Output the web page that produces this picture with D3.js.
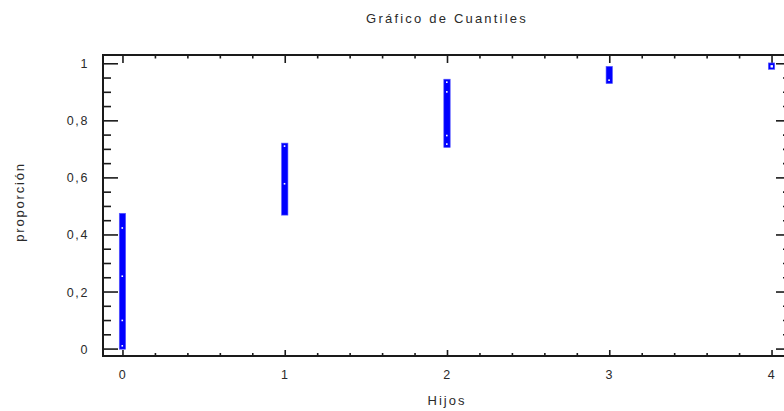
<!DOCTYPE html>
<html>
<head>
<meta charset="utf-8">
<script src="https://cdn.jsdelivr.net/npm/d3@7"></script>
<style>
  html, body { margin: 0; padding: 0; background: #fff; }
  svg { display: block; }
  text { font-family: "Liberation Sans", Arial, sans-serif; fill: #2a2a2a; }
</style>
</head>
<body>
<svg id="chart" width="784" height="411"></svg>
<script>
// ---- data ----
const title = "Gráfico de Cuantiles";
const xTitle = "Hijos";
const yTitle = "proporción";
const categories = [0, 1, 2, 3, 4];            // Hijos values
const lowerProp = [0.009, 0.479, 0.716, 0.940, 0.990]; // lowest cumulative proportion per value
const upperProp = [0.463, 0.709, 0.933, 0.978, 0.990]; // highest cumulative proportion per value
const dotX = [0, 0, 0, 0, 1, 1, 2, 2, 2, 2, 3, 4];     // visible hollow-marker centres
const dotY = [0.422, 0.253, 0.098, 0.009, 0.709, 0.577, 0.933, 0.899, 0.746, 0.716, 0.940, 0.990];
const xTickValues = [0, 1, 2, 3, 4];
const yTickValues = [0, 0.2, 0.4, 0.6, 0.8, 1];

// ---- layout ----
const svg = d3.select("#chart");
const pL = 103, pR = 791, pT = 55, pB = 356;
const x = d3.scaleLinear().domain([-0.12, 4.12]).range([pL, pR]);
const y = d3.scaleLinear().domain([-0.026, 1.029]).range([pB, pT]);
const fmt = v => d3.format("~g")(v).replace(".", ",");
const half = 3.2;

// title
svg.append("text").attr("x", 447).attr("y", 23).attr("text-anchor", "middle")
  .style("font-size", "13px").style("letter-spacing", "2.2px").text(title);

// y axis title
svg.append("text").attr("transform", "translate(24,202) rotate(-90)")
  .attr("text-anchor", "middle").style("font-size", "13px").style("letter-spacing", "1.8px")
  .text(yTitle);

// x axis title
svg.append("text").attr("x", 447).attr("y", 405).attr("text-anchor", "middle")
  .style("font-size", "13px").style("letter-spacing", "2px").text(xTitle);

// minor tick arrays
const xMinor = d3.range(0, 4.0001, 0.2).filter(v => Math.abs(v - Math.round(v)) > 1e-6);
const yMinor = d3.range(0, 1.0001, 0.05).filter(v => Math.abs(v * 5 - Math.round(v * 5)) > 1e-6);

// axes via d3 axis generators
const gB = svg.append("g").attr("transform", `translate(0,${pB})`)
  .call(d3.axisBottom(x).tickValues(xTickValues).tickSizeInner(-6).tickSizeOuter(0).tickFormat(fmt).tickPadding(14));
svg.append("g").attr("transform", `translate(0,${pB})`)
  .call(d3.axisBottom(x).tickValues(xMinor).tickSizeInner(-3).tickSizeOuter(0).tickFormat(""));
svg.append("g").attr("transform", `translate(0,${pT})`)
  .call(d3.axisTop(x).tickValues(xTickValues).tickSizeInner(-8).tickSizeOuter(0).tickFormat(""));
svg.append("g").attr("transform", `translate(0,${pT})`)
  .call(d3.axisTop(x).tickValues(xMinor).tickSizeInner(-3.5).tickSizeOuter(0).tickFormat(""));

const gL = svg.append("g").attr("transform", `translate(${pL},0)`)
  .call(d3.axisLeft(y).tickValues(yTickValues).tickSizeInner(-15).tickSizeOuter(0).tickFormat(fmt).tickPadding(14));
svg.append("g").attr("transform", `translate(${pL},0)`)
  .call(d3.axisLeft(y).tickValues(yMinor).tickSizeInner(-8).tickSizeOuter(0).tickFormat(""));
svg.append("g").attr("transform", `translate(${pR},0)`)
  .call(d3.axisRight(y).tickValues(yTickValues).tickSizeInner(-15).tickSizeOuter(0).tickFormat(""));
svg.append("g").attr("transform", `translate(${pR},0)`)
  .call(d3.axisRight(y).tickValues(yMinor).tickSizeInner(-8).tickSizeOuter(0).tickFormat(""));

svg.selectAll(".domain").remove();
svg.selectAll(".tick line").attr("stroke", "#1a1a1a").attr("stroke-width", 1.6);
svg.selectAll(".tick text").style("font-size", "12.5px").style("letter-spacing", "1.6px")
  .attr("fill", "#2a2a2a").style("font-family", "'Liberation Sans', Arial, sans-serif");
gL.selectAll(".tick text").attr("dy", "0.36em");
gB.selectAll(".tick text").attr("dy", "0.72em");

// frame
svg.append("rect").attr("x", pL).attr("y", pT).attr("width", pR - pL).attr("height", pB - pT)
  .attr("fill", "none").attr("stroke", "#1a1a1a").attr("stroke-width", 2);

// quantile segments (overlapping square markers)
svg.append("g").selectAll("rect").data(categories).join("rect")
  .attr("x", (d) => x(d) - half)
  .attr("y", (d, i) => y(upperProp[i]) - half)
  .attr("width", half * 2)
  .attr("height", (d, i) => y(lowerProp[i]) - y(upperProp[i]) + half * 2)
  .attr("fill", "#0000ff").attr("stroke", "#5a5aff").attr("stroke-width", 0.6);

// white centres of the visible hollow markers
svg.append("g").selectAll("rect").data(dotX).join("rect")
  .attr("x", (d) => x(d) - 1)
  .attr("y", (d, i) => y(dotY[i]) - 1)
  .attr("width", (d) => d === 4 ? 2.4 : 1.6)
  .attr("height", (d) => d === 4 ? 2.4 : 1.6)
  .attr("fill", "#ffffff");
</script>
</body>
</html>
